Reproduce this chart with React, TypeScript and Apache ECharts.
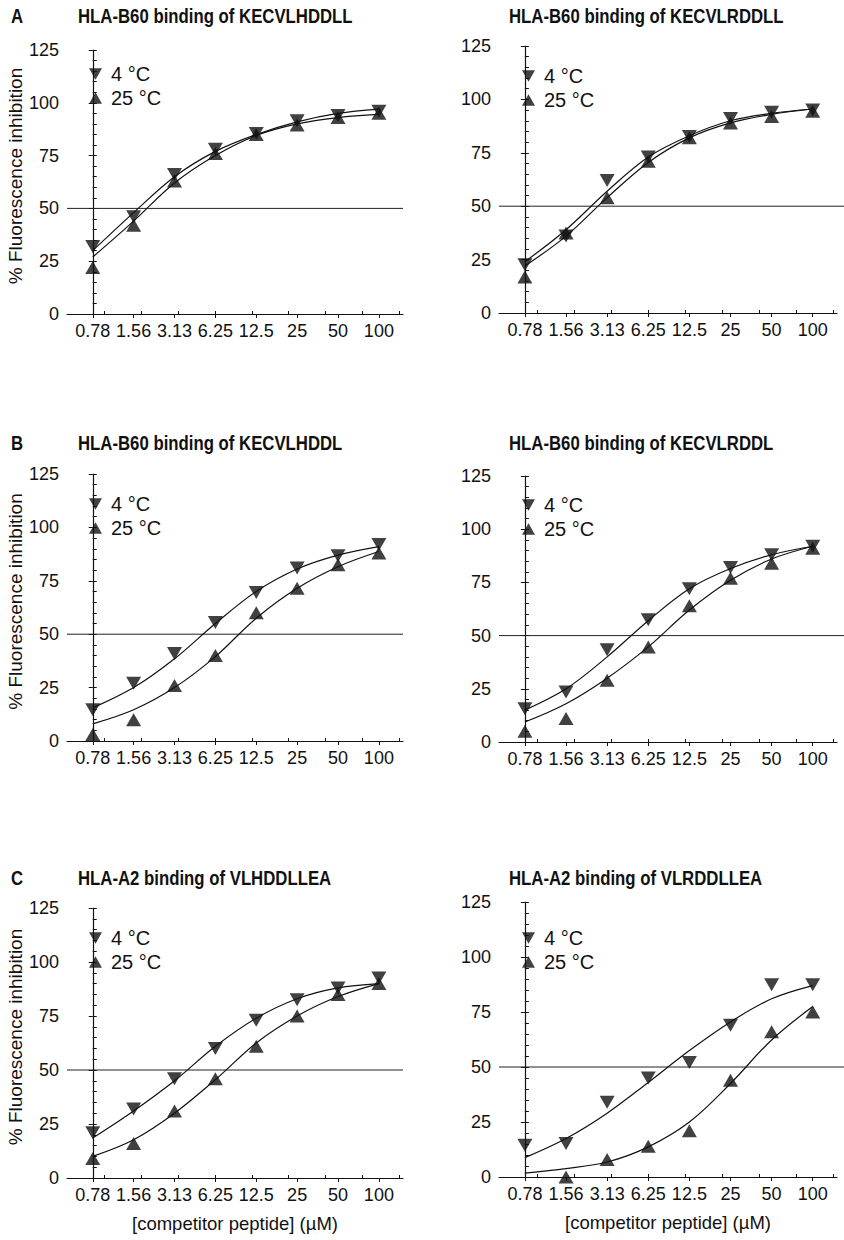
import React, { useEffect, useRef } from "react";
import * as echarts from "echarts";

// ---------- data ----------
const categories = ["0.78", "1.56", "3.13", "6.25", "12.5", "25", "50", "100"];
const seriesNames = ["4 °C", "25 °C"];
const panelLetters = ["A", "", "B", "", "C", ""];
const panelTitles = [
  "HLA-B60 binding of KECVLHDDLL",
  "HLA-B60 binding of KECVLRDDLL",
  "HLA-B60 binding of KECVLHDDL",
  "HLA-B60 binding of KECVLRDDL",
  "HLA-A2 binding of VLHDDLLEA",
  "HLA-A2 binding of VLRDDLLEA",
];
const yAxisName = "% Fluorescence inhibition";
const xAxisName = "[competitor peptide] (µM)";
const yMin = 0;
const yMax = 125;
const yMajor = 25;
const yMinor = 5;
const threshold = 50;

// Panel A left: KECVLHDDLL
const a1Cold = [32, 46, 66, 78, 85.5, 91.5, 94, 96];
const a1Warm = [22, 42, 63, 76, 85, 89.5, 93, 95];
const a1ColdFit = [30, 48, 65, 77, 85, 91, 95, 97];
const a1WarmFit = [27, 44, 62, 75, 84.5, 90, 93, 94.5];
// Panel A right: KECVLRDDLL
const a2Cold = [22.6, 36, 62, 73, 82.6, 91, 94, 95];
const a2Warm = [16.8, 37.5, 54, 71, 82, 89, 92, 94.5];
const a2ColdFit = [24, 39, 57, 73, 83, 90, 93.5, 95.5];
const a2WarmFit = [22, 36, 54, 70.5, 82, 89, 93, 95.5];
// Panel B left: KECVLHDDL
const b1Cold = [14.6, 27, 41, 55.5, 69.5, 81, 86.7, 92];
const b1Warm = [3, 10, 26, 40, 60, 71.5, 82.5, 88];
const b1ColdFit = [15.5, 25, 38.5, 55, 70, 80.5, 87, 91];
const b1WarmFit = [8, 14.6, 25, 39.5, 57.5, 71.5, 81.6, 88.7];
// Panel B right: KECVLRDDL
const b2Cold = [15.6, 23.5, 43.4, 57.5, 72, 82, 88, 92];
const b2Warm = [5, 11, 29, 44.7, 64, 77, 84, 91];
const b2ColdFit = [15, 25, 40, 57, 72, 81.5, 88, 92];
const b2WarmFit = [9.4, 18, 30, 44.7, 62, 76, 86, 92];
// Panel C left: VLHDDLLEA
const c1Cold = [21, 32, 46, 60, 73, 82.5, 88, 92.6];
const c1Warm = [9, 16, 31, 46, 61, 75, 85, 90];
const c1ColdFit = [18.5, 31, 45, 61, 74, 83, 88, 90];
const c1WarmFit = [10, 17.7, 30, 45.5, 62.5, 75, 84, 90];
// Panel C right: VLRDDLLEA
const c2Cold = [14.4, 15.2, 34, 45, 52, 69, 87.4, 87.4];
const c2Warm = [null, 0, 8, 14, 21, 44, 66, 75];
const c2ColdFit = [8.8, 17.5, 29, 43, 57.5, 70.5, 81, 87];
const c2WarmFit = [1.8, 3.8, 6.8, 13.7, 25, 42.5, 62.3, 77.5];

const panelData = [
  [a1Cold, a1Warm, a1ColdFit, a1WarmFit],
  [a2Cold, a2Warm, a2ColdFit, a2WarmFit],
  [b1Cold, b1Warm, b1ColdFit, b1WarmFit],
  [b2Cold, b2Warm, b2ColdFit, b2WarmFit],
  [c1Cold, c1Warm, c1ColdFit, c1WarmFit],
  [c2Cold, c2Warm, c2ColdFit, c2WarmFit],
];

// ---------- layout / style ----------
const layouts = [
  { left: 67, width: 336, top: 50, height: 264, refWidth: 336, legendLeft: 89, legendTop: 64, titleY: 17 },
  { left: 499, width: 338, top: 46, height: 267, refWidth: 345, legendLeft: 522, legendTop: 66, titleY: 17 },
  { left: 67, width: 336, top: 474, height: 267, refWidth: 336, legendLeft: 89, legendTop: 494, titleY: 444 },
  { left: 499, width: 338, top: 476, height: 266, refWidth: 345, legendLeft: 522, legendTop: 495, titleY: 444 },
  { left: 67, width: 336, top: 908, height: 270, refWidth: 336, legendLeft: 89, legendTop: 928, titleY: 879 },
  { left: 499, width: 338, top: 902, height: 275, refWidth: 345, legendLeft: 522, legendTop: 928, titleY: 879 },
];
const xMin = -0.63;
const xMax = 7.59;
const minorXTicks = [0.29, 1.19, 2.09, 2.99, 3.89, 4.79, 5.69, 6.59, 7.49];
const INK = "#111111";
const FONT = "Liberation Sans, Arial, Helvetica, sans-serif";
const downTri = "path://M0,0L10,0L5,9Z";
const upTri = "path://M5,0L10,9L0,9Z";

function buildOption() {
  const grid: any[] = [];
  const xAxis: any[] = [];
  const yAxis: any[] = [];
  const series: any[] = [];
  const graphic: any[] = [];
  const legend: any[] = [];
  const majorIdx = categories.map((_, i) => i);
  const n = layouts.length;

  layouts.forEach((L, p) => {
    grid[p] = { left: L.left, top: L.top, width: L.width, height: L.height };
    grid[n + p] = { left: L.left, top: L.top, width: L.refWidth, height: L.height };
  });

  layouts.forEach((L, p) => {
    const isLeft = p % 2 === 0;
    const isBottom = p >= 4;
    xAxis[p] = {
      type: "value", gridIndex: p, min: xMin, max: xMax,
      name: isBottom ? xAxisName : "", nameLocation: "middle", nameGap: 36,
      nameTextStyle: { fontFamily: FONT, fontSize: 18.5, color: INK },
      axisLine: { show: true, lineStyle: { color: INK, width: 1.2 } },
      axisTick: { show: true, inside: false, length: 4, customValues: majorIdx, lineStyle: { color: INK } },
      axisLabel: {
        customValues: majorIdx, margin: 8, fontFamily: FONT, fontSize: 18, color: INK,
        formatter: (v: number) => categories[Math.round(v)] ?? "",
      },
      splitLine: { show: false },
    };
    xAxis[n + p] = {
      type: "value", gridIndex: p, min: xMin, max: xMax, position: "bottom",
      axisLine: { show: false },
      axisTick: { show: true, inside: true, length: 3, customValues: minorXTicks, lineStyle: { color: INK } },
      axisLabel: { show: false }, splitLine: { show: false },
    };
    xAxis[2 * n + p] = { type: "value", gridIndex: n + p, min: 0, max: 1, show: false };

    yAxis[p] = {
      type: "value", gridIndex: p, min: yMin, max: yMax, interval: yMajor,
      name: isLeft ? yAxisName : "", nameLocation: "middle", nameGap: 38, nameRotate: 90,
      nameTextStyle: { fontFamily: FONT, fontSize: 19, color: INK, padding: [0, 0, 0, 12] },
      axisLine: { show: true, lineStyle: { color: INK, width: 1.2 } },
      axisTick: { show: true, inside: false, length: 4, lineStyle: { color: INK } },
      axisLabel: { margin: 8, fontFamily: FONT, fontSize: 18, color: INK },
      splitLine: { show: false },
    };
    yAxis[n + p] = {
      type: "value", gridIndex: p, min: yMin, max: yMax, interval: yMinor, position: "left",
      axisLine: { show: false },
      axisTick: { show: true, inside: true, length: 4, lineStyle: { color: INK } },
      axisLabel: { show: false }, splitLine: { show: false },
    };
    yAxis[2 * n + p] = { type: "value", gridIndex: n + p, min: yMin, max: yMax, show: false };

    if (panelLetters[p]) {
      graphic.push({
        type: "text", x: 11, y: L.titleY, scaleX: 0.86,
        style: { text: panelLetters[p], font: `bold 19.5px ${FONT}`, fill: INK, verticalAlign: "middle" },
      });
    }
    graphic.push({
      type: "text", x: isLeft ? 78 : 509, y: L.titleY, scaleX: 0.86,
      style: { text: panelTitles[p], font: `bold 19.5px ${FONT}`, fill: INK, verticalAlign: "middle" },
    });

    legend.push({
      orient: "vertical", left: L.legendLeft, top: L.legendTop, padding: 0,
      itemWidth: 13, itemHeight: 12, itemGap: 4, selectedMode: false,
      data: [
        { name: seriesNames[0], icon: downTri },
        { name: seriesNames[1], icon: upTri },
      ],
      itemStyle: { color: INK },
      textStyle: { fontFamily: FONT, fontSize: 20, color: INK, padding: [0, 0, 0, 4] },
    });

    const [cold, warm, coldFit, warmFit] = panelData[p];
    const toPts = (arr: (number | null)[]) =>
      arr.map((v, i) => (v == null ? null : [i, v])).filter((d) => d !== null);

    series.push({
      type: "line", name: "refline-" + p, xAxisIndex: 2 * n + p, yAxisIndex: 2 * n + p,
      data: [[0, threshold], [1, threshold]], showSymbol: false, symbol: "none",
      lineStyle: { color: "#222", width: 1 }, silent: true, z: 1,
    });
    series.push({
      type: "line", name: "fit-cold-" + p, xAxisIndex: p, yAxisIndex: p,
      data: toPts(coldFit), smooth: 0.35, showSymbol: false, symbol: "none",
      lineStyle: { color: INK, width: 1.2 }, z: 2,
    });
    series.push({
      type: "line", name: "fit-warm-" + p, xAxisIndex: p, yAxisIndex: p,
      data: toPts(warmFit), smooth: 0.35, showSymbol: false, symbol: "none",
      lineStyle: { color: INK, width: 1.2 }, z: 2,
    });
    series.push({
      type: "scatter", name: seriesNames[0], xAxisIndex: p, yAxisIndex: p,
      data: toPts(cold), symbol: "triangle", symbolRotate: 180, symbolSize: [15, 13],
      itemStyle: { color: INK }, z: 3,
    });
    series.push({
      type: "scatter", name: seriesNames[1], xAxisIndex: p, yAxisIndex: p,
      data: toPts(warm), symbol: "triangle", symbolSize: [15, 13],
      itemStyle: { color: INK }, z: 3,
    });
  });

  return { animation: false, backgroundColor: "#ffffff", graphic, legend, grid, xAxis, yAxis, series };
}

export default function App() {
  const ref = useRef<HTMLDivElement>(null);
  useEffect(() => {
    if (!ref.current) return;
    const chart = echarts.init(ref.current, null, { renderer: "svg" });
    chart.setOption(buildOption() as any);
    return () => chart.dispose();
  }, []);
  return (
    <div
      ref={ref}
      style={{ position: "absolute", left: 0, top: 0, width: 844, height: 1240, background: "#fff" }}
    />
  );
}
